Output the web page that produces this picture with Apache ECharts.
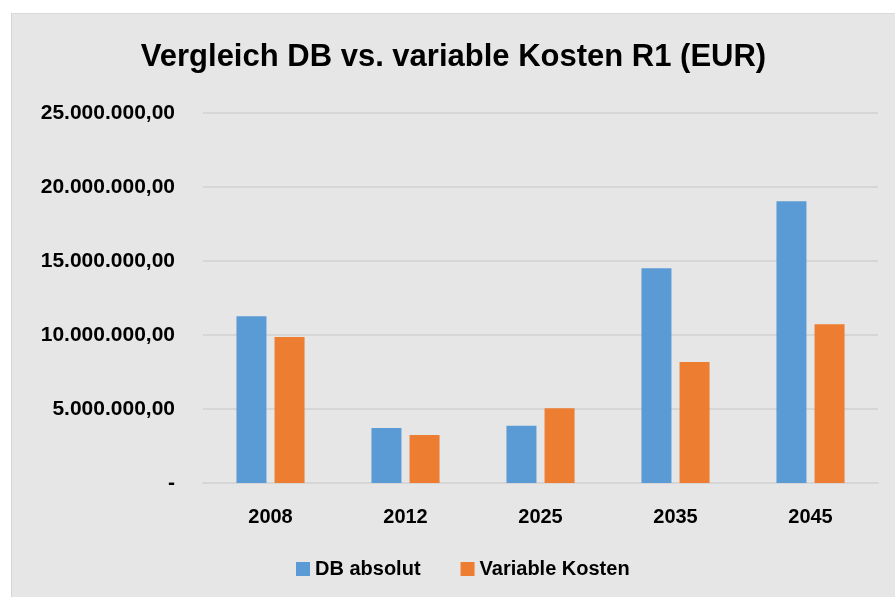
<!DOCTYPE html>
<html>
<head>
<meta charset="utf-8">
<script src="https://cdn.jsdelivr.net/npm/echarts@6/dist/echarts.min.js"></script>
<style>
  html, body { margin: 0; padding: 0; background: #ffffff; }
  #chart {
    position: absolute; left: 11px; top: 13px;
    width: 884px; height: 584px;
    background: #e6e6e6;
    border-left: 1px solid #d4d4d4; border-top: 1px solid #dadada;
    box-sizing: border-box;
  }
</style>
</head>
<body>
<div id="chart"></div>
<script>
var years = ['2008', '2012', '2025', '2035', '2045']
var dbAbsolut = [11260000, 3720000, 3860000, 14510000, 19040000]
var variableKosten = [9870000, 3250000, 5050000, 8180000, 10720000]
var yTicks = [0, 5000000, 10000000, 15000000, 20000000, 25000000]

var FONT = 'Liberation Sans'

function fmtDE(v) {
  if (v === 0) return '-'
  var s = Math.round(v).toString().replace(/\B(?=(\d{3})+(?!\d))/g, '.')
  return s + ',00'
}

var myChart = echarts.init(document.getElementById('chart'))
var option = {
  textStyle: { fontFamily: FONT },
  title: {
    text: 'Vergleich DB vs. variable Kosten R1 (EUR)',
    left: 'center',
    top: 23,
    textStyle: { fontSize: 31, fontWeight: 'bold', color: '#000', fontFamily: FONT },
  },
  legend: {
    bottom: 13,
    left: 279,
    itemWidth: 14,
    itemHeight: 14,
    itemGap: 40,
    icon: 'rect',
    textStyle: { fontSize: 20, fontWeight: 'bold', color: '#000', fontFamily: FONT },
    data: ['DB absolut', 'Variable Kosten'],
  },
  grid: { left: 191, right: 17, top: 99, bottom: 114, containLabel: false },
  xAxis: {
    type: 'category',
    data: years,
    axisTick: { show: false },
    axisLine: { lineStyle: { color: '#d6d6d6', width: 2 } },
    axisLabel: { fontSize: 20, fontWeight: 'bold', color: '#000', margin: 24, fontFamily: FONT },
  },
  yAxis: {
    type: 'value',
    min: yTicks[0],
    max: yTicks[yTicks.length - 1],
    interval: 5000000,
    axisLine: { show: false },
    axisTick: { show: false },
    splitLine: { lineStyle: { color: '#d6d6d6', width: 2 } },
    axisLabel: { fontSize: 21, fontWeight: 'bold', color: '#000', margin: 28, formatter: fmtDE, fontFamily: FONT },
  },
  series: [
    {
      name: 'DB absolut',
      type: 'bar',
      data: dbAbsolut,
      barWidth: 30,
      barGap: '27%',
      itemStyle: { color: '#5b9bd5' },
    },
    {
      name: 'Variable Kosten',
      type: 'bar',
      data: variableKosten,
      barWidth: 30,
      itemStyle: { color: '#ed7d31' },
    },
  ],
}
option && myChart.setOption(option)
</script>
</body>
</html>
